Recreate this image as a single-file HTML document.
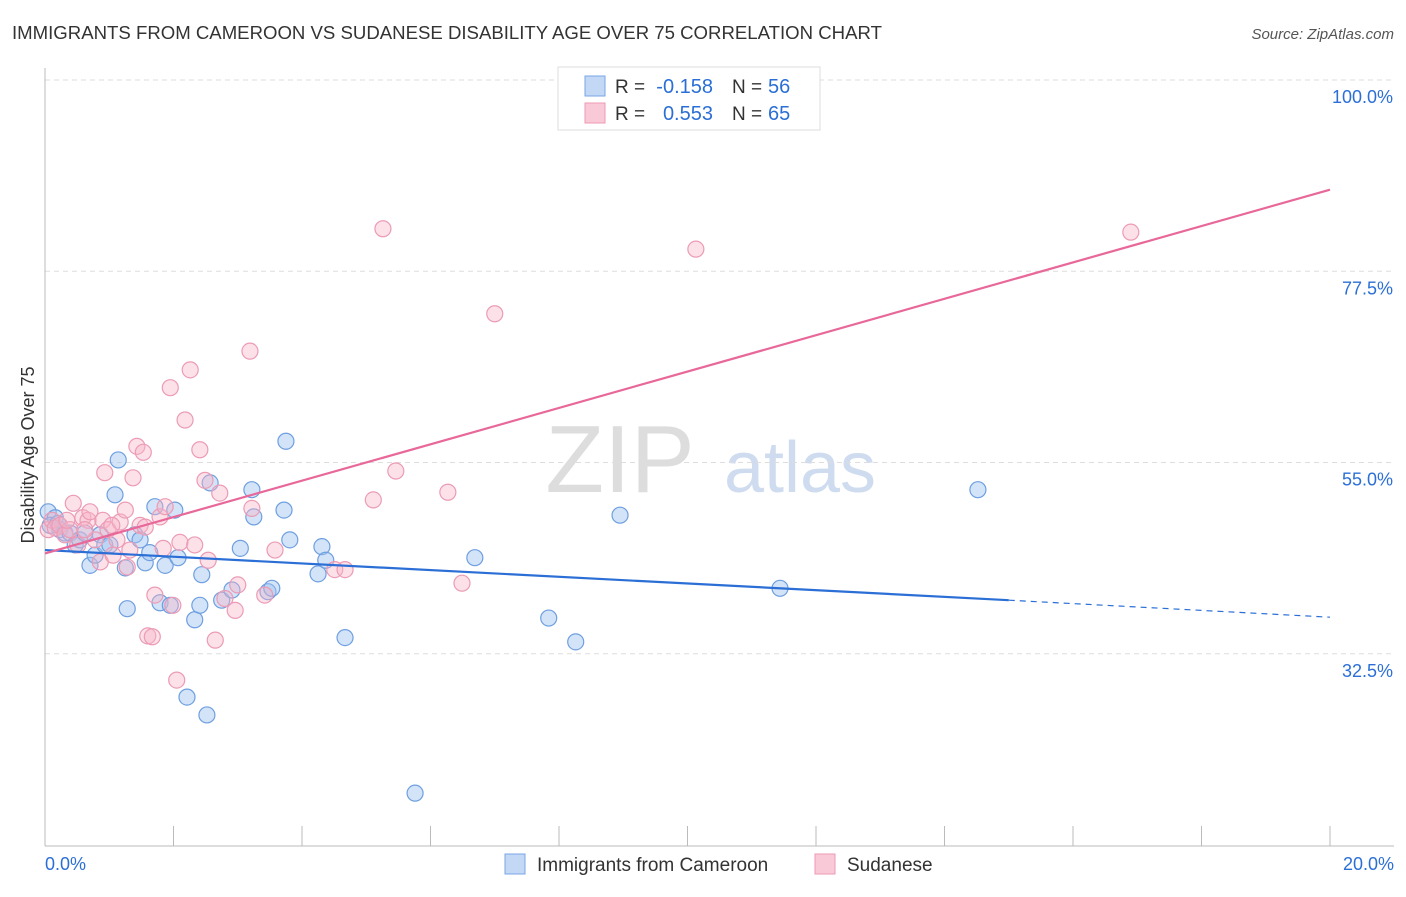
<!DOCTYPE html>
<html><head><meta charset="utf-8"><style>
body{margin:0;background:#fff;font-family:"Liberation Sans",sans-serif;}
svg text{font-family:"Liberation Sans",sans-serif;}
</style></head><body>
<svg width="1406" height="892" xmlns="http://www.w3.org/2000/svg">
<text x="12" y="39" font-size="18.6" fill="#333">IMMIGRANTS FROM CAMEROON VS SUDANESE DISABILITY AGE OVER 75 CORRELATION CHART</text>
<text x="1394" y="39" font-size="15" fill="#555" font-style="italic" text-anchor="end">Source: ZipAtlas.com</text>
<text x="620" y="492" font-size="96" fill="#ddd" font-family="Liberation Serif" text-anchor="middle">ZIP</text>
<text x="800" y="492" font-size="72" fill="#cfdcf0" text-anchor="middle">atlas</text>
<g id="grid"></g>
<g id="axes"></g>
<g id="pts"></g>
<g id="trend"></g>
<text transform="translate(34,455) rotate(-90)" font-size="18" fill="#333" text-anchor="middle">Disability Age Over 75</text>
<g>
<rect x="558" y="67" width="262" height="63" fill="#fff" stroke="#ddd"/>
<rect x="585" y="76" width="20" height="20" fill="#c3d8f5" stroke="#7aa6e6"/>
<rect x="585" y="103" width="20" height="20" fill="#f9c9d7" stroke="#ee9ab4"/>
<text x="615" y="93" font-size="19" fill="#333">R =</text>
<text x="713" y="93" font-size="20" fill="#2b6fd6" text-anchor="end">-0.158</text>
<text x="732" y="93" font-size="19" fill="#333">N =</text>
<text x="768" y="93" font-size="20" fill="#2b6fd6">56</text>
<text x="615" y="120" font-size="19" fill="#333">R =</text>
<text x="713" y="120" font-size="20" fill="#2b6fd6" text-anchor="end">0.553</text>
<text x="732" y="120" font-size="19" fill="#333">N =</text>
<text x="768" y="120" font-size="20" fill="#2b6fd6">65</text>
</g>
<g>
<rect x="505" y="854" width="20" height="20" fill="#c3d8f5" stroke="#7aa6e6"/>
<text x="537" y="871" font-size="19" fill="#333">Immigrants from Cameroon</text>
<rect x="815" y="854" width="20" height="20" fill="#f9c9d7" stroke="#ee9ab4"/>
<text x="847" y="871" font-size="19" fill="#333">Sudanese</text>
</g>
</svg>
<script>
const yTicks=[100,77.5,55,32.5];
const xTickLabels=["0.0%","20.0%"];
const blueX=[0.05,0.16,0.23,0.31,0.39,0.47,0.54,0.62,0.70,0.78,0.86,0.93,1.01,1.09,1.14,1.25,1.28,1.40,1.48,1.56,1.63,1.71,1.79,1.87,1.95,2.02,2.07,2.21,2.33,2.41,2.44,2.52,2.57,2.75,2.91,3.04,3.22,3.25,3.47,3.53,3.72,3.75,3.81,4.25,4.31,4.37,4.67,5.76,6.69,7.84,8.26,8.95,11.44,14.52,0.08,0.20];
const blueY=[49.2,48.5,47.1,46.7,46.7,45.3,45.9,46.7,42.9,44.1,46.5,45.3,45.3,51.2,55.3,42.6,37.8,46.5,45.9,43.2,44.4,49.8,38.5,42.9,38.2,49.4,43.8,27.4,36.5,38.2,41.8,25.3,52.6,38.8,40.0,44.9,51.8,48.6,39.8,40.2,49.4,57.5,45.9,41.9,45.1,43.5,34.4,16.1,43.8,36.7,33.9,48.8,40.2,51.8,47.6,47.8];
const pinkX=[0.05,0.11,0.16,0.23,0.31,0.39,0.44,0.51,0.59,0.67,0.70,0.78,0.86,0.90,0.93,0.98,1.06,1.12,1.17,1.25,1.28,1.32,1.37,1.43,1.48,1.53,1.60,1.67,1.71,1.79,1.84,1.87,1.95,1.99,2.05,2.10,2.18,2.26,2.33,2.49,2.54,2.65,2.72,2.80,2.96,3.00,3.19,3.22,3.42,3.58,4.51,4.67,5.11,5.26,5.46,6.27,6.49,7.00,10.13,16.90,0.34,0.62,1.04,1.56,2.41];
const pinkY=[47.1,48.2,47.3,47.6,46.5,47.1,50.2,45.3,48.5,48.2,49.2,45.9,43.3,48.2,53.8,47.1,44.1,45.9,48.0,49.4,42.7,44.7,53.2,56.9,47.6,56.2,34.6,34.5,39.4,48.6,44.9,49.8,63.8,38.2,29.4,45.6,60.0,65.9,45.3,52.9,43.5,34.1,51.4,39.0,37.6,40.6,68.1,49.6,39.4,44.7,42.4,42.4,50.6,82.5,54.0,51.5,40.8,72.5,80.1,82.1,48.2,47.1,47.6,47.4,56.5];
const blueTrend=[0,44.7,15,38.8,20,36.8];
const pinkTrend=[0,44.3,20,87.1];
const NS="http://www.w3.org/2000/svg";
const X=v=>45+v*64.25, Y=v=>80+(100-v)*8.5;
function mk(p,t,a){const e=document.createElementNS(NS,t);for(const k in a)e.setAttribute(k,a[k]);p.appendChild(e);return e;}
const grid=document.getElementById('grid'),axes=document.getElementById('axes'),pts=document.getElementById('pts'),tr=document.getElementById('trend');
yTicks.forEach(v=>{
 const l=mk(grid,'line',{x1:45,x2:1394,y1:Y(v),y2:Y(v),stroke:'#ddd','stroke-dasharray':'5,4'});
 
 
 const t=mk(axes,'text',{x:1393,y:Y(v)+23,'font-size':18,fill:'#2b6fd6','text-anchor':'end'});
 t.textContent=v.toFixed(1)+'%';
 
 
});
const ax=mk(axes,'line',{x1:45,x2:45,y1:68,y2:846,stroke:'#bbb'});


const bx=mk(axes,'line',{x1:45,x2:1394,y1:846,y2:846,stroke:'#bbb'});


for(let i=0;i<=20;i+=2){const t=mk(axes,'line',{x1:X(i),x2:X(i),y1:826,y2:846,stroke:'#bbb'});
 
 }
[[0,'start',45],[1,'end',1394]].forEach(([i,a,x])=>{const t=mk(axes,'text',{x:x,y:870,'font-size':18,fill:'#2b6fd6','text-anchor':a});t.textContent=xTickLabels[i];
 
 });
blueX.forEach((x,i)=>{const c=mk(pts,'circle',{cx:X(x),cy:Y(blueY[i]),r:8,fill:'rgba(160,196,240,0.45)',stroke:'#6e9fe0','stroke-width':1.2});
 
 });
pinkX.forEach((x,i)=>{const c=mk(pts,'circle',{cx:X(x),cy:Y(pinkY[i]),r:8,fill:'rgba(248,180,200,0.4)',stroke:'#ec9bb5','stroke-width':1.2});
 
 });
const b1=mk(tr,'line',{x1:X(blueTrend[0]),y1:Y(blueTrend[1]),x2:X(blueTrend[2]),y2:Y(blueTrend[3]),stroke:'#2b6fd6','stroke-width':2.2});


const b2=mk(tr,'line',{x1:X(blueTrend[2]),y1:Y(blueTrend[3]),x2:X(blueTrend[4]),y2:Y(blueTrend[5]),stroke:'#2b6fd6','stroke-width':1.2,'stroke-dasharray':'6,5'});


const p1=mk(tr,'line',{x1:X(pinkTrend[0]),y1:Y(pinkTrend[1]),x2:X(pinkTrend[2]),y2:Y(pinkTrend[3]),stroke:'#e8689a','stroke-width':2.2});


</script>
</body></html>
